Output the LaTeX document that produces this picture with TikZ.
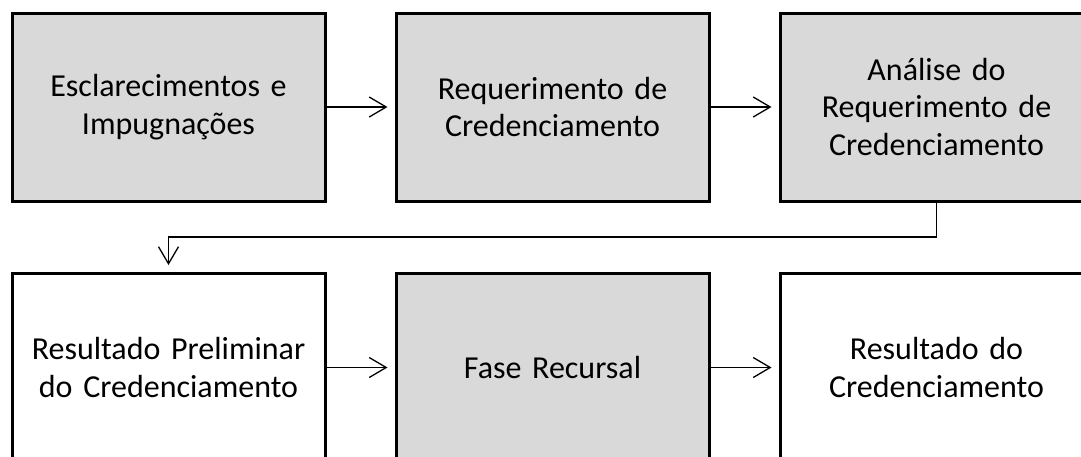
\documentclass[tikz,border=0pt]{standalone}
\usepackage{fontspec}
\setmainfont{Carlito}
\usetikzlibrary{arrows.meta}
\definecolor{boxgray}{RGB}{217,217,217}
\tikzset{
  box/.style={draw=black, line width=3pt, minimum width=313pt, minimum height=188pt,
    inner sep=0pt, align=center, text width=300pt,
    font=\fontsize{32}{37.5}\selectfont},
  graybox/.style={box, fill=boxgray},
  whitebox/.style={box, fill=white},
  conn/.style={draw=black, line width=1.3pt, shorten >=7pt,
    -{Straight Barb[length=17pt,width=20pt,line width=1.3pt]}},
}
\begin{document}
\begin{tikzpicture}[x=1pt,y=-1pt]
\useasboundingbox (0,0) rectangle (1081,456);
\clip (0,0) rectangle (1081,456);
\node[graybox] (b1) at (168.5,107) {Esclarecimentos e\\Impugnações};
\node[graybox] (b2) at (552.5,107) {Requerimento de\\Credenciamento};
\node[graybox] (b3) at (936.5,107) {Análise do\\Requerimento de\\Credenciamento};
\node[whitebox] (b4) at (168.5,367.5) {Resultado Preliminar\\do Credenciamento};
\node[graybox] (b5) at (552.5,367.5) {Fase Recursal};
\node[whitebox] (b6) at (936.5,367.5) {Resultado do\\Credenciamento};
\draw[conn] (b1.east) -- (b2.west);
\draw[conn] (b2.east) -- (b3.west);
\coordinate (bend) at (936.5,237);
\draw[conn] (b3.south) -- (bend) -| (b4.north);
\draw[conn] (b4.east) -- (b5.west);
\draw[conn] (b5.east) -- (b6.west);
\end{tikzpicture}
\end{document}
